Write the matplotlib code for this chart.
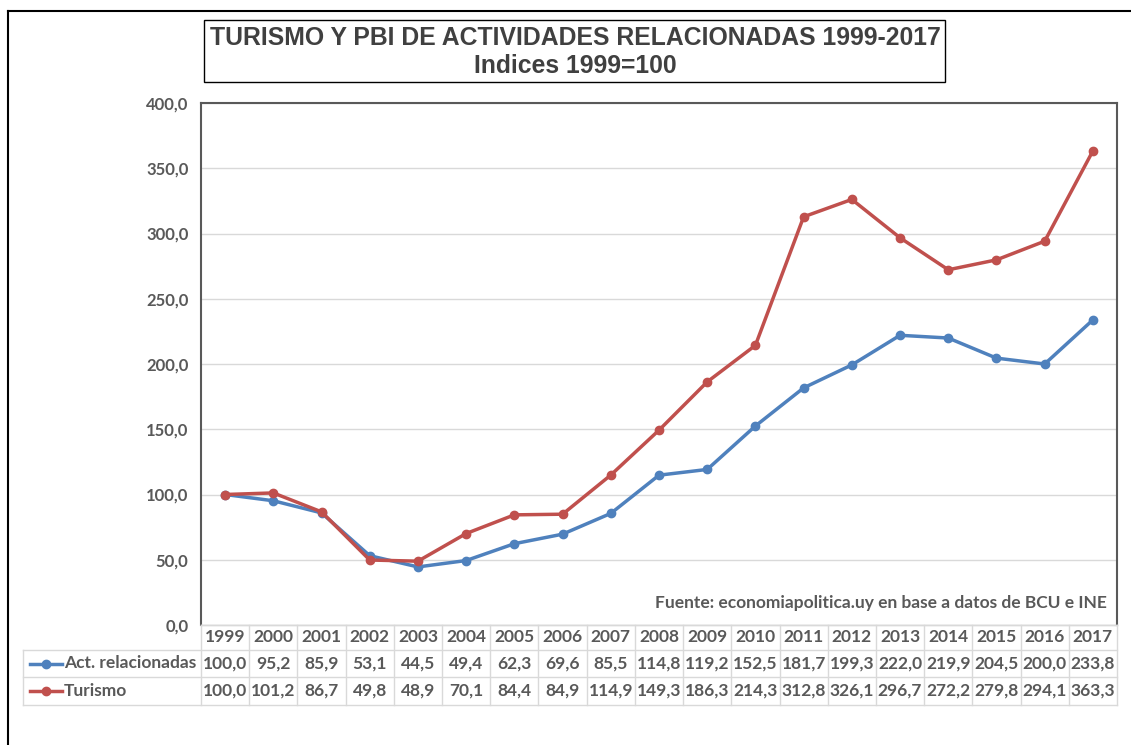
# Turismo y PBI de actividades relacionadas, indices 1999=100
import matplotlib
matplotlib.use('Agg')
import matplotlib.pyplot as plt
import matplotlib.transforms as mtransforms
from matplotlib.lines import Line2D
from matplotlib.patches import Rectangle

# datos
years = ['1999', '2000', '2001', '2002', '2003', '2004', '2005', '2006', '2007', '2008',
         '2009', '2010', '2011', '2012', '2013', '2014', '2015', '2016', '2017']
act_relacionadas = [100.0, 95.2, 85.9, 53.1, 44.5, 49.4, 62.3, 69.6, 85.5, 114.8,
                    119.2, 152.5, 181.7, 199.3, 222.0, 219.9, 204.5, 200.0, 233.8]
turismo = [100.0, 101.2, 86.7, 49.8, 48.9, 70.1, 84.4, 84.9, 114.9, 149.3,
           186.3, 214.3, 312.8, 326.1, 296.7, 272.2, 279.8, 294.1, 363.3]
series_names = ['Act. relacionadas', 'Turismo']
y_ticks = [0, 50, 100, 150, 200, 250, 300, 350, 400]

azul = '#4F81BD'
rojo = '#C0504D'
gris = '#595959'
grilla = '#D9D9D9'
fuente = ['Lato', 'DejaVu Sans']
fs = 12.5

W, H = 1131, 745
fig = plt.figure(figsize=(W / 100, H / 100), dpi=100)


def fx(x):
    return x / W


def fy(y):
    return 1 - y / H


# marco exterior (solo izquierda y arriba)
fig.add_artist(Line2D([fx(8), fx(8)], [fy(11), 0], color='black', lw=1.5))
fig.add_artist(Line2D([fx(8), 1], [fy(11), fy(11)], color='black', lw=1.5))

# titulo con recuadro
fig.add_artist(Rectangle((fx(204), fy(82)), fx(945) - fx(204), fy(20) - fy(82),
                         fill=False, ec='black', lw=1))
fig.text(fx(575), fy(38), 'TURISMO Y PBI DE ACTIVIDADES RELACIONADAS 1999-2017',
         ha='center', va='center', fontsize=17.8, fontweight='bold', color='#404040',
         family=['Liberation Sans', 'DejaVu Sans'])
fig.text(fx(575), fy(66), 'Indices 1999=100',
         ha='center', va='center', fontsize=17.8, fontweight='bold', color='#404040',
         family=['Liberation Sans', 'DejaVu Sans'])

left, right, top, bottom = 201, 1117, 103, 625
ax = fig.add_axes([fx(left), fy(bottom), fx(right) - fx(left), fy(top) - fy(bottom)])
x = list(range(len(years)))
ax.plot(x, act_relacionadas, color=azul, lw=2.5, marker='o', ms=6, zorder=3)
ax.plot(x, turismo, color=rojo, lw=2.5, marker='o', ms=6, zorder=3)
ax.set_xlim(-0.5, len(years) - 0.5)
ax.set_ylim(0, 400)
ax.set_yticks(y_ticks)
ax.set_yticklabels([f'{v:.1f}'.replace('.', ',') for v in y_ticks],
                   fontsize=12, fontweight='bold', color=gris, family=fuente)
ax.tick_params(axis='y', length=0, pad=9)
ax.set_xticks([])
ax.grid(axis='y', color=grilla, lw=1)
ax.set_axisbelow(True)
for s in ['left', 'top', 'right']:
    ax.spines[s].set_color('#595959')
    ax.spines[s].set_linewidth(1.5)
ax.spines['bottom'].set_color(grilla)
ax.spines['bottom'].set_linewidth(1)

ax.text(0.989, 0.042, 'Fuente: economiapolitica.uy en base a datos de BCU e INE',
        transform=ax.transAxes, ha='right', va='center', fontsize=fs,
        fontweight='bold', color=gris, family=fuente)

# tabla de datos debajo del grafico
tr = mtransforms.blended_transform_factory(ax.transData, fig.transFigure)
row_lines = [625, 650, 677, 705]
for i, yl in enumerate(row_lines):
    x0 = fx(left) if i == 0 else fx(23)
    fig.add_artist(Line2D([x0, fx(right)], [fy(yl), fy(yl)], color=grilla, lw=1))
for k in range(len(years) + 1):
    fig.add_artist(Line2D([k - 0.5, k - 0.5], [fy(625), fy(705)], color=grilla, lw=1,
                          transform=tr))
fig.add_artist(Line2D([fx(23), fx(23)], [fy(650), fy(705)], color=grilla, lw=1))

row_y = [637.5, 663.5, 691]
for k, yr in enumerate(years):
    fig.text(k, fy(row_y[0]), yr, transform=tr, ha='center', va='center',
             fontsize=fs, fontweight='bold', color=gris, family=fuente)
    for r, vals in enumerate([act_relacionadas, turismo]):
        fig.text(k, fy(row_y[r + 1]), f'{vals[k]:.1f}'.replace('.', ','), transform=tr,
                 ha='center', va='center', fontsize=fs, fontweight='bold',
                 color=gris, family=fuente)

for r, (name, col) in enumerate(zip(series_names, [azul, rojo])):
    yy = fy(row_y[r + 1])
    fig.add_artist(Line2D([fx(30), fx(62)], [yy, yy], color=col, lw=2.5))
    fig.add_artist(Line2D([fx(46)], [yy], color=col, marker='o', ms=6, lw=0))
    fig.text(fx(64), yy, name, ha='left', va='center', fontsize=fs,
             fontweight='bold', color=gris, family=fuente)

fig.savefig('out.png', dpi=100)
